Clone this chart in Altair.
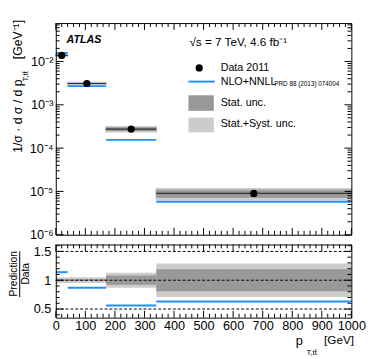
import altair as alt
import pandas as pd

# ---------------- data ----------------
bin_lo = [0, 40, 170, 340]
bin_hi = [40, 170, 340, 1000]
bin_mid = [20, 105, 255, 670]
data_xs = [1.38e-2, 3.1e-3, 2.75e-4, 9.0e-6]
pred_xs = [1.57e-2, 2.7e-3, 1.55e-4, 5.8e-6]
ratio_pred = [1.14, 0.87, 0.56, 0.63]
stat_unc = [0.015, 0.015, 0.08, 0.19]
tot_unc = [0.05, 0.05, 0.13, 0.29]

x_major = [0, 100, 200, 300, 400, 500, 600, 700, 800, 900, 1000]
x_minor = [v for v in range(0, 1001, 20) if v % 100]
y_major = [1e-6, 1e-5, 1e-4, 1e-3, 1e-2]
y_minor = [m * 10.0 ** e for e in range(-6, -1) for m in range(2, 10) if m * 10.0 ** e < 0.077]
r_major = [0.5, 1.0, 1.5]
r_minor = [0.4, 0.6, 0.7, 0.8, 0.9, 1.1, 1.2, 1.3, 1.4, 1.6]
ref_lines = [0.5, 1.0, 1.5]

W, H1, H2 = 303, 217, 75
FONT = "Liberation Sans"
BLUE = "#1e90ff"
DARK = "#999999"
LIGHT = "#cccccc"
TICK = "black"

df = pd.DataFrame(dict(lo=bin_lo, hi=bin_hi, mid=bin_mid, data=data_xs, pred=pred_xs,
                       ratio=ratio_pred, stat=stat_unc, tot=tot_unc))
df["tot_lo"] = df["data"] * (1 - df["tot"])
df["tot_hi"] = df["data"] * (1 + df["tot"])
df["stat_lo"] = df["data"] * (1 - df["stat"])
df["stat_hi"] = df["data"] * (1 + df["stat"])
df["rtot_lo"] = 1 - df["tot"]
df["rtot_hi"] = 1 + df["tot"]
df["rstat_lo"] = 1 - df["stat"]
df["rstat_hi"] = 1 + df["stat"]

xs = alt.Scale(domain=[0, 1000], nice=False, zero=False)
ys = alt.Scale(type="log", domain=[1e-6, 0.077], nice=False)
rs = alt.Scale(domain=[0.35, 1.62], nice=False, zero=False)

one = pd.DataFrame({"a": [0]})


def txt(text, x, y, size, **kw):
    params = dict(text=text, fontSize=size, font=FONT, align="left", baseline="middle", color="black")
    params.update(kw)
    return alt.Chart(one).mark_text(**params).encode(x=alt.value(x), y=alt.value(y))


def frame_axis(orient, offset):
    return alt.Axis(orient=orient, offset=offset, values=[], ticks=False, labels=False,
                    domain=True, domainColor="black", domainWidth=1, grid=False, zindex=2, title=None)


def label_axis(orient, values, expr, pad):
    return alt.Axis(orient=orient, values=values, ticks=False, domain=False, labels=True,
                    labelExpr=expr, labelFontSize=13, labelFont=FONT, labelColor="black",
                    labelPadding=pad, grid=False, labelFlush=False, labelOverlap=False,
                    zindex=2, title=None)


def ax_layer(xsc, ysc, xaxis, yaxis, xv, yv):
    d = pd.DataFrame({"ax": [xv], "ay": [yv]})
    return alt.Chart(d).mark_point(opacity=0).encode(
        x=alt.X("ax:Q", scale=xsc, axis=xaxis),
        y=alt.Y("ay:Q", scale=ysc, axis=yaxis),
    )


def yticks(values, ysc, x0, x1):
    return alt.Chart(pd.DataFrame({"tv": values})).mark_rule(color=TICK, strokeWidth=1).encode(
        y=alt.Y("tv:Q", scale=ysc, axis=None), x=alt.value(x0), x2=alt.value(x1))


def xticks(values, y0, y1):
    return alt.Chart(pd.DataFrame({"tv": values})).mark_rule(color=TICK, strokeWidth=1).encode(
        x=alt.X("tv:Q", scale=xs, axis=None), y=alt.value(y0), y2=alt.value(y1))


def tick_set(ysc, ymaj, ymin, H):
    return [
        yticks(ymaj, ysc, 0, 8), yticks(ymin, ysc, 0, 4),
        yticks(ymaj, ysc, W, W - 7), yticks(ymin, ysc, W, W - 4),
        xticks(x_major, 0, 7), xticks(x_minor, 0, 4),
        xticks(x_major, H, H - 7), xticks(x_minor, H, H - 4),
    ]


def X(f):
    return alt.X(f, scale=xs, axis=None)


# ---------------- top panel ----------------
base = alt.Chart(df)
light_band = base.mark_rect(color=LIGHT, stroke=LIGHT, strokeWidth=1.5).encode(
    x=X("lo:Q"), x2="hi:Q", y=alt.Y("tot_lo:Q", scale=ys, axis=None), y2="tot_hi:Q")
dark_band = base.mark_rect(color=DARK, stroke=DARK, strokeWidth=0.8).encode(
    x=X("lo:Q"), x2="hi:Q", y=alt.Y("stat_lo:Q", scale=ys, axis=None), y2="stat_hi:Q")
data_line = base.mark_rule(color="#333333", strokeWidth=1.2).encode(
    x=X("lo:Q"), x2="hi:Q", y=alt.Y("data:Q", scale=ys, axis=None))
pred_line = base.mark_rule(color=BLUE, strokeWidth=2).encode(
    x=X("lo:Q"), x2="hi:Q", y=alt.Y("pred:Q", scale=ys, axis=None))
points = base.mark_circle(size=55, color="black", opacity=1).encode(
    x=X("mid:Q"), y=alt.Y("data:Q", scale=ys, axis=None))

yexpr = ("datum.value < 5e-6 ? '10⁻⁶' : datum.value < 5e-5 ? '10⁻⁵' : datum.value < 5e-4 ? '10⁻⁴' "
         ": datum.value < 5e-3 ? '10⁻³' : '10⁻²'")
top_axes = [
    ax_layer(xs, ys, frame_axis("bottom", -H1), label_axis("left", y_major, yexpr, 3), 500, 1e-4),
    ax_layer(xs, ys, frame_axis("top", -H1), frame_axis("right", -W), 500, 1e-4),
    ax_layer(xs, ys, None, frame_axis("left", -W), 500, 1e-4),
]

leg_one = alt.Chart(one)
top_text = [
    txt("ATLAS", 11, 17, 11, fontStyle="italic", fontWeight="bold"),
    txt("√s = 7 TeV, 4.6 fb⁻¹", 137, 20, 12),
    leg_one.mark_circle(size=55, color="black", opacity=1).encode(x=alt.value(147), y=alt.value(46)),
    txt("Data 2011", 169, 46, 11),
    leg_one.mark_rule(color=BLUE, strokeWidth=2).encode(x=alt.value(136), x2=alt.value(163), y=alt.value(60)),
    txt("NLO+NNLL", 169, 60, 11),
    txt("PRD 88 (2013) 074004", 224, 62, 6.5),
    leg_one.mark_rect(color=DARK).encode(x=alt.value(136), x2=alt.value(162), y=alt.value(74), y2=alt.value(90)),
    txt("Stat. unc.", 169, 82, 11),
    leg_one.mark_rect(color=LIGHT).encode(x=alt.value(136), x2=alt.value(162), y=alt.value(97), y2=alt.value(112)),
    txt("Stat.+Syst. unc.", 169, 104, 11),
    txt("1/σ · d σ / d p", -39, 133, 12.5, angle=270),
    txt("T,tt\u0304", -31, 60, 8, angle=270),
    txt("[GeV⁻¹]", -39, 37, 12.5, angle=270),
]

top = alt.layer(light_band, dark_band, data_line, pred_line, points,
                *tick_set(ys, y_major, y_minor, H1), *top_axes, *top_text).resolve_axis(
    x="independent", y="independent").properties(width=W, height=H1)

# ---------------- ratio panel ----------------
rlight = base.mark_rect(color=LIGHT).encode(
    x=X("lo:Q"), x2="hi:Q", y=alt.Y("rtot_lo:Q", scale=rs, axis=None), y2="rtot_hi:Q")
rdark = base.mark_rect(color=DARK).encode(
    x=X("lo:Q"), x2="hi:Q", y=alt.Y("rstat_lo:Q", scale=rs, axis=None), y2="rstat_hi:Q")
rlines = alt.Chart(pd.DataFrame({"r": ref_lines})).mark_rule(
    color="black", strokeDash=[3, 2], strokeWidth=1).encode(y=alt.Y("r:Q", scale=rs, axis=None))
rpred = base.mark_rule(color=BLUE, strokeWidth=2).encode(
    x=X("lo:Q"), x2="hi:Q", y=alt.Y("ratio:Q", scale=rs, axis=None))

bot_axes = [
    ax_layer(xs, rs, label_axis("bottom", x_major, "'' + datum.value", 2),
             label_axis("left", r_major, "'' + datum.value", 5), 500, 1.0),
    ax_layer(xs, rs, frame_axis("bottom", -H2), frame_axis("right", -W), 500, 1.0),
    ax_layer(xs, rs, frame_axis("top", -H2), frame_axis("left", -W), 500, 1.0),
]

bot_text = [
    txt("Prediction", -43, 30, 10.5, angle=270, align="center"),
    txt("Data", -30, 30, 10.5, angle=270, align="center"),
    leg_one.mark_rule(color="black", strokeWidth=1).encode(x=alt.value(-37), y=alt.value(7), y2=alt.value(54)),
    txt("p", 246, 99, 13),
    txt("T,tt\u0304", 257, 111, 8),
    txt("[GeV]", 275, 98, 12),
]

bottom = alt.layer(rlight, rdark, rlines, rpred, *tick_set(rs, r_major, r_minor, H2),
                   *bot_axes, *bot_text).resolve_axis(
    x="independent", y="independent").properties(width=W, height=H2)

chart = alt.vconcat(top, bottom, spacing=10, bounds="flush").properties(
    padding={"left": 0, "top": 7, "right": 0, "bottom": 0}
).configure_view(stroke="transparent")

chart.save("out.html", embed_options={"renderer": "svg", "actions": False})
